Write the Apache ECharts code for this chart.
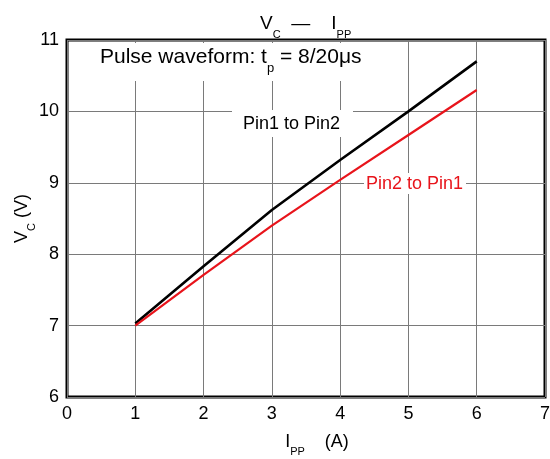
<!DOCTYPE html>
<html>
<head>
<meta charset="utf-8">
<script src="https://cdn.jsdelivr.net/npm/echarts@6/dist/echarts.min.js"></script>
<style>
html,body{margin:0;padding:0;background:#fff;}
#c{width:550px;height:459px;}
</style>
</head>
<body>
<div id="c"></div>
<script>
var ippValues = [1, 2, 3, 4, 5, 6];
var pin1ToPin2 = [7.03, 7.83, 8.62, 9.32, 10.0, 10.7];
var pin2ToPin1 = [7.0, 7.71, 8.40, 9.04, 9.67, 10.3];
var xTicks = [0, 1, 2, 3, 4, 5, 6, 7];
var yTicks = [6, 7, 8, 9, 10, 11];

var FONT = 'Liberation Sans, Arial, sans-serif';

function pairs(xs, ys) {
  return xs.map(function (x, i) { return [x, ys[i]]; });
}

var chart = echarts.init(document.getElementById('c'));
chart.setOption({
  animation: false,
  backgroundColor: '#fff',
  textStyle: { fontFamily: FONT },
  title: {
    text: '{m|V}{s|C}{m|  —    I}{s|PP}',
    left: 255,
    top: 3,
    textStyle: {
      fontWeight: 'normal',
      rich: {
        m: { fontSize: 19, fontFamily: FONT, fontWeight: 'normal', color: '#000', verticalAlign: 'middle', lineHeight: 32 },
        s: { fontSize: 11, fontFamily: FONT, fontWeight: 'normal', color: '#000', verticalAlign: 'bottom', lineHeight: 32 }
      }
    }
  },
  grid: {
    left: 67, right: 5, top: 40, bottom: 62,
    containLabel: false, outerBoundsMode: 'none',
    show: true, borderColor: '#000', borderWidth: 3, backgroundColor: 'transparent'
  },
  xAxis: {
    type: 'value', min: xTicks[0], max: xTicks[xTicks.length - 1], interval: 1,
    axisLine: { show: false }, axisTick: { show: false },
    axisLabel: { color: '#000', fontSize: 18, margin: 8, fontFamily: FONT },
    splitLine: { show: true, lineStyle: { color: '#7a7a7a', width: 1 } },
    name: '{m|I}{s|PP}{m|    (A)}',
    nameLocation: 'middle',
    nameGap: 30,
    nameMoveOverlap: false,
    nameTextStyle: {
      padding: [0, 0, 0, 22],
      rich: {
        m: { fontSize: 18, fontFamily: FONT, color: '#000', verticalAlign: 'middle', lineHeight: 30 },
        s: { fontSize: 11, fontFamily: FONT, color: '#000', verticalAlign: 'bottom', lineHeight: 30 }
      }
    }
  },
  yAxis: {
    type: 'value', min: yTicks[0], max: yTicks[yTicks.length - 1], interval: 1,
    axisLine: { show: false }, axisTick: { show: false },
    axisLabel: { color: '#000', fontSize: 18, margin: 8, fontFamily: FONT },
    splitLine: { show: true, lineStyle: { color: '#7a7a7a', width: 1 } },
    name: '{m|V}{s|C}{m| (V)}',
    nameLocation: 'middle',
    nameRotate: 90,
    nameGap: 30,
    nameMoveOverlap: false,
    nameTextStyle: {
      rich: {
        m: { fontSize: 18, fontFamily: FONT, color: '#000', verticalAlign: 'middle', lineHeight: 30 },
        s: { fontSize: 11, fontFamily: FONT, color: '#000', verticalAlign: 'bottom', lineHeight: 30 }
      }
    }
  },
  series: [
    {
      name: 'Pin1 to Pin2', type: 'line', data: pairs(ippValues, pin1ToPin2),
      showSymbol: false, symbol: 'none',
      lineStyle: { color: '#000', width: 2.6 }, z: 3
    },
    {
      name: 'Pin2 to Pin1', type: 'line', data: pairs(ippValues, pin2ToPin1),
      showSymbol: false, symbol: 'none',
      lineStyle: { color: '#e8141b', width: 2.2 }, z: 4
    }
  ],
  graphic: [
    { type: 'rect', z: 50, shape: { x: 70, y: 43, width: 305, height: 38 }, style: { fill: '#fff' } },
    {
      type: 'text', z: 60, left: 100, top: 47,
      style: {
        text: '{m|Pulse waveform: t}{s|p}{m| = 8/20μs}',
        rich: {
          m: { fontSize: 21, fontFamily: FONT, fill: '#000', verticalAlign: 'middle', lineHeight: 34 },
          s: { fontSize: 13, fontFamily: FONT, fill: '#000', verticalAlign: 'bottom', lineHeight: 34 }
        }
      }
    },
    { type: 'rect', z: 50, shape: { x: 232, y: 110, width: 121, height: 27 }, style: { fill: '#fff' } },
    {
      type: 'text', z: 60, left: 243, top: 115,
      style: { text: 'Pin1 to Pin2', fontSize: 18, fontFamily: FONT, fill: '#000' }
    },
    { type: 'rect', z: 50, shape: { x: 364, y: 173, width: 102, height: 21 }, style: { fill: '#fff' } },
    {
      type: 'text', z: 60, left: 366, top: 175,
      style: { text: 'Pin2 to Pin1', fontSize: 18, fontFamily: FONT, fill: '#e8141b' }
    }
  ]
});
</script>
</body>
</html>
